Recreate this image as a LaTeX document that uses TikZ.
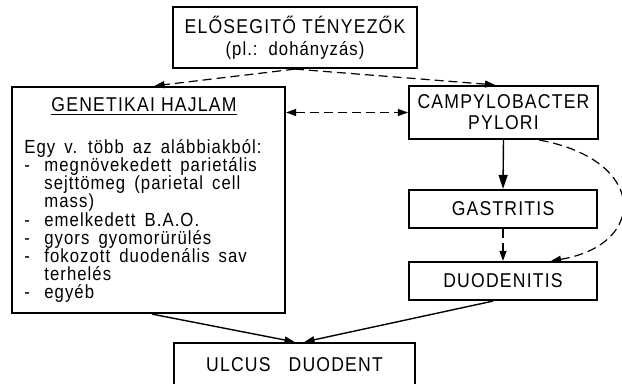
\documentclass[tikz,border=0pt]{standalone}
\usepackage{fontspec}
\setmainfont{Liberation Sans}
\newfontfamily\capfont{Liberation Sans}[FakeStretch=0.88, LetterSpace=6]
\newfontfamily\txtfont{Liberation Sans}[FakeStretch=0.88, LetterSpace=5.5, WordSpace=1.6]
\usetikzlibrary{arrows.meta}

\begin{document}
\begin{tikzpicture}[x=0.5pt, y=-0.5pt,
    every node/.style={font=\capfont\fontsize{10}{11}\selectfont},
    box/.style={draw, line width=1.1pt, inner sep=0pt, align=center},
    dsh/.style={line width=0.6pt, dash pattern=on 4.5pt off 2.5pt},
    sol/.style={line width=0.7pt},
    tip/.style={-{Triangle[length=5pt,width=3.5pt]}}]
    \useasboundingbox (0,0) rectangle (622,384);

    % 画方框
    \node[box, minimum width=122pt, minimum height=30.5pt] (faktor) at (295,37.5)
        {ELŐSEGITŐ TÉNYEZŐK\\{\txtfont\fontsize{9.5}{11}\selectfont (pl.: dohányzás)}};
    \node[box, minimum width=136.5pt, minimum height=113pt] (hajlam) at (148.5,200) {};
    \node (hajlamcim) at (144,107) {\underline{GENETIKAI HAJLAM}};
    \node[anchor=north west, align=left, inner sep=0pt,
          font=\txtfont\fontsize{9.5}{9.1}\selectfont] (hajlamlista) at (24,139)
        {Egy v. több az alábbiakból:\\
         \makebox[10pt][l]{-}megnövekedett parietális\\
         \hspace*{10pt}sejttömeg (parietal cell\\
         \hspace*{10pt}mass)\\
         \makebox[10pt][l]{-}emelkedett B.A.O.\\
         \makebox[10pt][l]{-}gyors gyomorürülés\\
         \makebox[10pt][l]{-}fokozott duodenális sav\\
         \hspace*{10pt}terhelés\\
         \makebox[10pt][l]{-}egyéb};
    \node[box, font=\capfont\fontsize{10}{10.5}\selectfont, minimum width=94.5pt, minimum height=26.5pt]
        (campy) at (503.5,112.5) {CAMPYLOBACTER\\PYLORI};
    \node[box, minimum width=94pt, minimum height=19pt] (gastritis) at (503,209) {GASTRITIS};
    \node[box, minimum width=94pt, minimum height=19pt] (duodenitis) at (503,281) {DUODENITIS};
    \node[box, minimum width=120.5pt, minimum height=22pt] (ulcus) at (294.5,365)
        {ULCUS\hspace{0.9em}DUODENT};

    % 画箭头
    \draw[dsh, tip] (faktor.south) -- ([xshift=3pt]hajlam.north);
    \draw[dsh, tip] (faktor.south) -- ([xshift=-4.25pt]campy.north);
    \draw[dsh, {Triangle[length=5pt,width=3.5pt]}-{Triangle[length=5pt,width=3.5pt]}]
        (hajlam.east |- campy.west) -- (campy.west);
    \draw[sol, -{Triangle[length=7pt,width=4.5pt]}] (campy.south) -- (gastritis.north);
    \draw[dsh, tip] (gastritis.south) -- (duodenitis.north);
    \draw[dsh, tip] ([xshift=18pt]campy.south) .. controls (648,160) and (648,245) .. ([xshift=24pt]duodenitis.north);
    \draw[sol, tip] ([xshift=1.75pt]hajlam.south) -- (ulcus.north);
    \draw[sol, tip] ([xshift=-5pt]duodenitis.south) -- ([xshift=5pt]ulcus.north);

\end{tikzpicture}
\end{document}
